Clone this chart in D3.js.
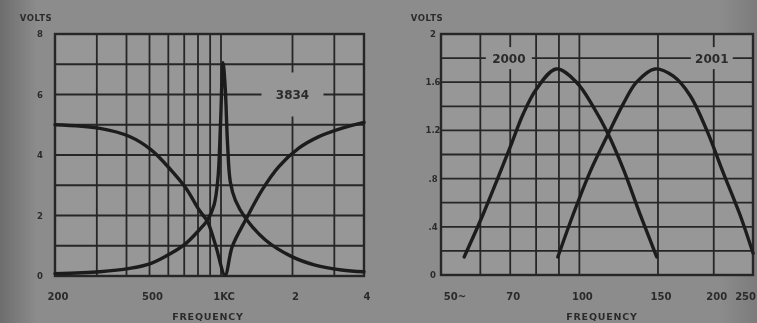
<!DOCTYPE html>
<html>
<head>
<meta charset="utf-8">
<script src="https://cdn.jsdelivr.net/npm/d3@7"></script>
<style>
  body { margin: 0; background: #8b8b8b; }
  svg { display: block; }
  text { font-family: "DejaVu Sans", sans-serif; font-weight: bold; fill: #2c2c2c; }
</style>
</head>
<body>
<script>
// ---- Left panel: model 3834 (band-pass peak and notch), 200 c/s to 4 kc ----
const leftFreqGrid = [300, 400, 500, 600, 700, 800, 900, 1000, 2000, 3000];
const leftFreqTicks = [200, 500, 1000, 2000, 4000];
const leftFreqLabels = ["200", "500", "1KC", "2", "4"];
const leftVoltTicks = [0, 2, 4, 6, 8];
const leftVoltGrid = [1, 2, 3, 4, 5, 6, 7];

const notch3834 = [
  [200, 5.0], [309, 4.88], [412, 4.61], [508, 4.17], [616, 3.5], [712, 2.9],
  [809, 2.18], [877, 1.8], [950, 1.0], [1040, 0.03], [1115, 0.97],
  [1269, 1.85], [1488, 2.84], [1748, 3.61], [2119, 4.22], [2570, 4.6],
  [3216, 4.88], [4000, 5.08]
];
const peak3834 = [
  [200, 0.08], [309, 0.14], [412, 0.25], [508, 0.42], [616, 0.75], [712, 1.08],
  [809, 1.52], [877, 1.85], [935, 2.35], [970, 3.2], [995, 5.0], [1020, 7.05],
  [1042, 6.2], [1065, 4.4], [1095, 3.1], [1150, 2.5], [1269, 1.91],
  [1538, 1.19], [1987, 0.64], [2490, 0.36], [3216, 0.2], [4000, 0.14]
];

// ---- Right panel: models 2000 and 2001, 50 c/s to 250 c/s ----
const rightFreqGrid = [60, 70, 80, 90, 100, 150, 200];
const rightFreqTicks = [50, 70, 100, 150, 200, 250];
const rightFreqLabels = ["50~", "70", "100", "150", "200", "250"];
const rightVoltTicks = [0, 0.4, 0.8, 1.2, 1.6, 2];
const rightVoltLabels = ["0", ".4", ".8", "1.2", "1.6", "2"];
const rightVoltGrid = [0.2, 0.4, 0.6, 0.8, 1.0, 1.2, 1.4, 1.6, 1.8];

const curve2000 = [
  [55.2, 0.15], [60.8, 0.5], [65.6, 0.8], [70.3, 1.08], [74.7, 1.33],
  [80.0, 1.54], [88.8, 1.71], [98.5, 1.6], [107.3, 1.4], [116, 1.17],
  [125.4, 0.88], [136.6, 0.51], [149, 0.15]
];
const curve2001 = [
  [89.5, 0.15], [96.8, 0.5], [105.5, 0.85], [116, 1.17], [125.4, 1.42],
  [134.3, 1.6], [147.6, 1.71], [162.4, 1.65], [177, 1.49], [193, 1.2],
  [210, 0.85], [229, 0.5], [245, 0.18]
];

const W = 757, H = 323;
const svg = d3.select("body").append("svg").attr("width", W).attr("height", H);

const defs = svg.append("defs");
const soft = defs.append("filter").attr("id", "soft");
soft.append("feGaussianBlur").attr("stdDeviation", 0.55);
const shade = defs.append("linearGradient").attr("id", "shade");
shade.append("stop").attr("offset", "0").attr("stop-color", "#000").attr("stop-opacity", 0.22);
shade.append("stop").attr("offset", "0.05").attr("stop-color", "#000").attr("stop-opacity", 0.0);
shade.append("stop").attr("offset", "0.95").attr("stop-color", "#000").attr("stop-opacity", 0.0);
shade.append("stop").attr("offset", "1").attr("stop-color", "#000").attr("stop-opacity", 0.12);

svg.append("rect").attr("width", W).attr("height", H).attr("fill", "#8c8c8c");
svg.append("rect").attr("width", W).attr("height", H).attr("fill", "url(#shade)");

const root = svg.append("g").attr("filter", "url(#soft)");

const INK = "#262626";

function panel(cfg) {
  const g = root.append("g");
  const { x, y, box } = cfg;

  g.append("rect")
    .attr("x", box.l).attr("y", box.t)
    .attr("width", box.r - box.l).attr("height", box.b - box.t)
    .attr("fill", "#979797");

  // grid
  g.selectAll(".vg").data(cfg.freqGrid).join("line")
    .attr("x1", d => x(d)).attr("x2", d => x(d))
    .attr("y1", box.t).attr("y2", box.b)
    .attr("stroke", INK).attr("stroke-width", 1.8);
  g.selectAll(".hg").data(cfg.voltGrid).join("line")
    .attr("x1", box.l).attr("x2", box.r)
    .attr("y1", d => y(d)).attr("y2", d => y(d))
    .attr("stroke", INK).attr("stroke-width", 1.8);

  g.append("rect")
    .attr("x", box.l).attr("y", box.t)
    .attr("width", box.r - box.l).attr("height", box.b - box.t)
    .attr("fill", "none").attr("stroke", INK).attr("stroke-width", 2.4);

  // tick labels
  g.selectAll(".xl").data(cfg.freqTicks).join("text")
    .attr("x", (d, i) => Math.min(x(d) + (cfg.xLabelShift ? cfg.xLabelShift(i) : 3), W - 1))
    .attr("y", 300)
    .attr("text-anchor", (d, i) => (x(d) + 12 > W ? "end" : "middle"))
    .attr("font-size", 10)
    .text((d, i) => cfg.freqLabels[i]);
  g.selectAll(".yl").data(cfg.voltTicks).join("text")
    .attr("x", cfg.yLabelX)
    .attr("y", d => y(d) + 3)
    .attr("text-anchor", "middle")
    .attr("font-size", 8.5)
    .text((d, i) => cfg.voltLabels[i]);

  g.append("text").attr("x", cfg.voltsX).attr("y", 21)
    .attr("text-anchor", "middle").attr("font-size", 8.5)
    .attr("letter-spacing", 0.6).text("VOLTS");
  g.append("text").attr("x", cfg.freqX).attr("y", 320)
    .attr("text-anchor", "middle").attr("font-size", 9.5)
    .attr("letter-spacing", 0.8).text("FREQUENCY");

  // model labels, set on the paper so the grid breaks around them
  cfg.tags.forEach(t => {
    g.append("rect")
      .attr("x", x(t.f) - t.w / 2).attr("y", y(t.v) - t.h / 2)
      .attr("width", t.w).attr("height", t.h).attr("fill", "#979797");
    g.append("text")
      .attr("x", x(t.f)).attr("y", y(t.v) + 4.5)
      .attr("text-anchor", "middle").attr("font-size", 12)
      .text(t.text);
  });

  const line = d3.line()
    .x(d => x(d[0])).y(d => y(d[1]))
    .curve(d3.curveCatmullRom.alpha(0.5));
  g.selectAll(".curve").data(cfg.curves).join("path")
    .attr("d", line)
    .attr("fill", "none").attr("stroke", "#1e1e1e")
    .attr("stroke-width", 3.4).attr("stroke-linejoin", "round")
    .attr("stroke-linecap", "round");
}

// left
const xL = d3.scaleLog().domain([200, 4000]).range([55, 364]);
const yL = d3.scaleLinear().domain([0, 8]).range([276, 34]);
panel({
  x: xL, y: yL,
  box: { l: 55, r: 364, t: 34, b: 276 },
  freqGrid: leftFreqGrid, voltGrid: leftVoltGrid,
  freqTicks: leftFreqTicks, freqLabels: leftFreqLabels,
  voltTicks: leftVoltTicks, voltLabels: leftVoltTicks.map(String),
  yLabelX: 40, voltsX: 36, freqX: 208,
  tags: [{ f: 2000, v: 6, text: "3834", w: 62, h: 44 }],
  curves: [notch3834, peak3834]
});

// right
const xR = d3.scaleLog().domain([50, 250]).range([445, 757]);
const yR = d3.scaleLinear().domain([0, 2]).range([275, 34]);
panel({
  x: xR, y: yR,
  box: { l: 441, r: 753, t: 34, b: 275 },
  freqGrid: rightFreqGrid, voltGrid: rightVoltGrid,
  freqTicks: rightFreqTicks, freqLabels: rightFreqLabels,
  xLabelShift: i => (i === 0 ? 10 : 3),
  voltTicks: rightVoltTicks, voltLabels: rightVoltLabels,
  yLabelX: 433, voltsX: 427, freqX: 602,
  tags: [
    { f: 69.5, v: 1.8, text: "2000", w: 46, h: 22 },
    { f: 198, v: 1.8, text: "2001", w: 42, h: 22 }
  ],
  curves: [curve2000, curve2001]
});
</script>
</body>
</html>
